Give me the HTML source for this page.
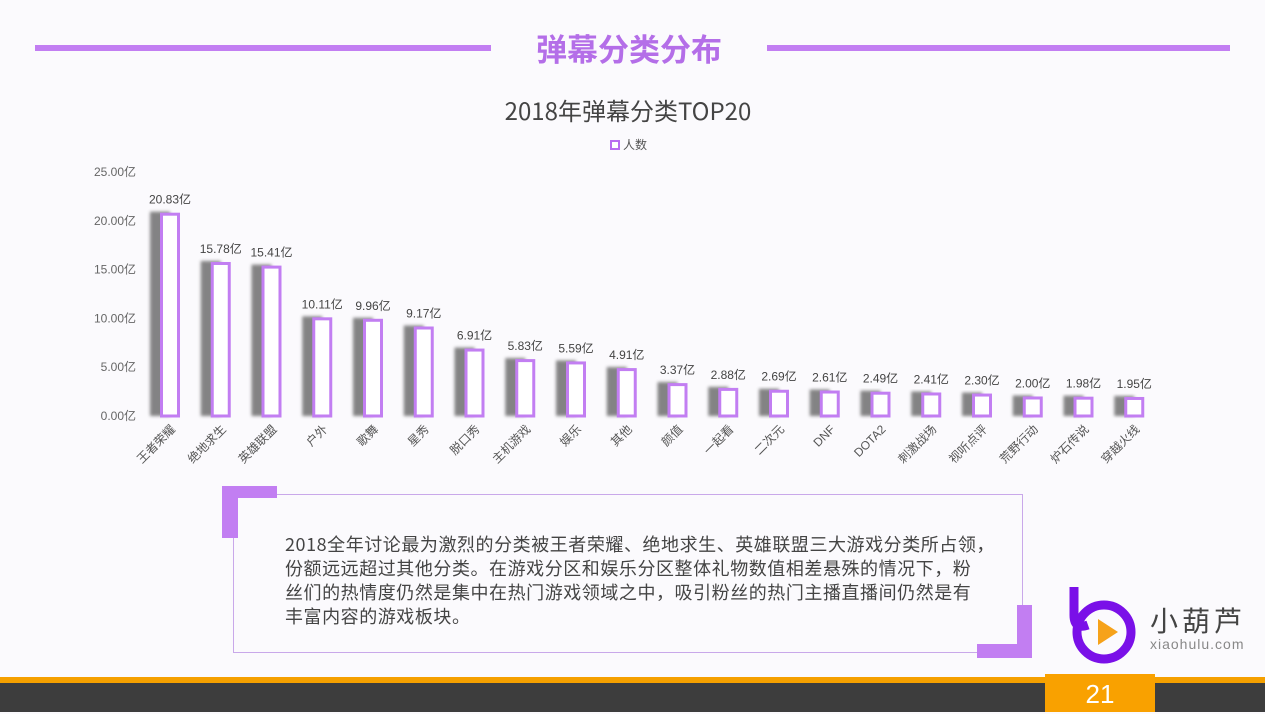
<!DOCTYPE html>
<html><head><meta charset="utf-8"><style>
body{margin:0;width:1265px;height:712px;overflow:hidden;background:#fbfafd;font-family:"Liberation Sans","Noto Sans CJK SC",sans-serif;position:relative}
.abs{position:absolute}
</style></head><body>
<div class="abs" style="left:35px;top:45px;width:456px;height:6px;background:#c27ef2"></div>
<div class="abs" style="left:767px;top:45px;width:463px;height:6px;background:#c27ef2"></div>
<div class="abs" style="left:491px;top:25px;width:276px;text-align:center;font-size:31px;font-weight:bold;color:#b46ee8;font-family:'Noto Sans CJK SC',sans-serif">弹幕分类分布</div>
<div class="abs" style="left:400px;top:92px;width:456px;text-align:center;font-size:24px;color:#444;font-family:'Noto Sans CJK SC',sans-serif">2018年弹幕分类TOP20</div>
<div class="abs" style="left:610px;top:136px;font-size:12px;color:#555;font-family:'Noto Sans CJK SC',sans-serif"><span style="display:inline-block;width:6px;height:6px;border:2px solid #b86cf0;background:#fff;vertical-align:-1px;margin-right:3px"></span>人数</div>
<svg class="abs" style="left:0;top:0" width="1265" height="712" id="chart"><defs><filter id="bl" x="-50%" y="-10%" width="200%" height="120%"><feGaussianBlur stdDeviation="1.5"/></filter></defs></svg>
<div class="abs" style="left:233px;top:494px;width:788px;height:157px;border:1px solid #c9a8ea"></div>
<div class="abs" style="left:222px;top:486px;width:55px;height:12px;background:#c27ef2"></div>
<div class="abs" style="left:222px;top:486px;width:16px;height:52px;background:#c27ef2"></div>
<div class="abs" style="left:977px;top:644px;width:55px;height:14px;background:#c27ef2"></div>
<div class="abs" style="left:1017px;top:605px;width:15px;height:53px;background:#c27ef2"></div>
<div class="abs" style="left:285px;top:532px;white-space:nowrap;font-size:18px;letter-spacing:0.55px;line-height:24px;color:#444;font-family:'Noto Sans CJK SC',sans-serif">2018全年讨论最为激烈的分类被王者荣耀、绝地求生、英雄联盟三大游戏分类所占领，<br>份额远远超过其他分类。在游戏分区和娱乐分区整体礼物数值相差悬殊的情况下，粉<br>丝们的热情度仍然是集中在热门游戏领域之中，吸引粉丝的热门主播直播间仍然是有<br>丰富内容的游戏板块。</div>
<svg class="abs" style="left:1068px;top:585px" width="72" height="80"><circle cx="36" cy="47" r="27" fill="none" stroke="#7a10e8" stroke-width="9"/><path d="M6 2 L6 30 Q6 45 20 40" fill="none" stroke="#7a10e8" stroke-width="9"/><polygon points="30,34 30,60 50,47" fill="#f6a21a"/></svg>
<div class="abs" style="left:1150px;top:600px;font-size:28px;color:#444;letter-spacing:4px;font-family:'Noto Sans CJK SC',sans-serif">小葫芦</div>
<div class="abs" style="left:1150px;top:636px;font-size:14px;color:#888;letter-spacing:1px">xiaohulu.com</div>
<div class="abs" style="left:0;top:677px;width:1265px;height:6px;background:#f5a000"></div>
<div class="abs" style="left:0;top:683px;width:1265px;height:29px;background:#3d3d3d"></div>
<div class="abs" style="left:1045px;top:674px;width:110px;height:38px;background:#f9a100;color:#fff;font-size:26px;text-align:center;line-height:40px">21</div>
<script>
const categories=["王者荣耀","绝地求生","英雄联盟","户外","歌舞","星秀","脱口秀","主机游戏","娱乐","其他","颜值","一起看","二次元","DNF","DOTA2","刺激战场","视听点评","荒野行动","炉石传说","穿越火线"];
const values=[20.83,15.78,15.41,10.11,9.96,9.17,6.91,5.83,5.59,4.91,3.37,2.88,2.69,2.61,2.49,2.41,2.30,2.00,1.98,1.95];
const ticks=[0,5,10,15,20,25];
const svg=document.getElementById('chart');const NS='http://www.w3.org/2000/svg';
const y0=416,yTop=172,maxV=25;
const y=v=>y0-(v/maxV)*(y0-yTop);
const x=i=>170+i*50.75;
function mk(t,a){const e=document.createElementNS(NS,t);for(const k in a)e.setAttribute(k,a[k]);svg.appendChild(e);return e;}
ticks.forEach(t=>{const e=mk('text',{x:136,y:y(t)+4,'text-anchor':'end','font-size':12,fill:'#666'});e.textContent=t.toFixed(2)+'亿';

});
values.forEach((v,i)=>{const cx=x(i);
const s=mk('rect',{x:cx-20,y:y(v)-1,width:20,height:y0-y(v)+1,fill:'#666',opacity:0.8,filter:'url(#bl)'});


const b=mk('rect',{x:cx-8.5,y:y(v)+1.5,width:17,height:y0-y(v)-1.5,fill:'#fff',stroke:'#c27ef2','stroke-width':3});


const l=mk('text',{x:cx,y:y(v)-9,'text-anchor':'middle','font-size':12,fill:'#444'});l.textContent=v.toFixed(2)+'亿';


const c=mk('text',{x:cx+6,y:y0+14,'text-anchor':'end','font-size':12,fill:'#555',transform:`rotate(-45 ${cx+6} ${y0+14})`});c.textContent=categories[i];


});
</script>
</body></html>
